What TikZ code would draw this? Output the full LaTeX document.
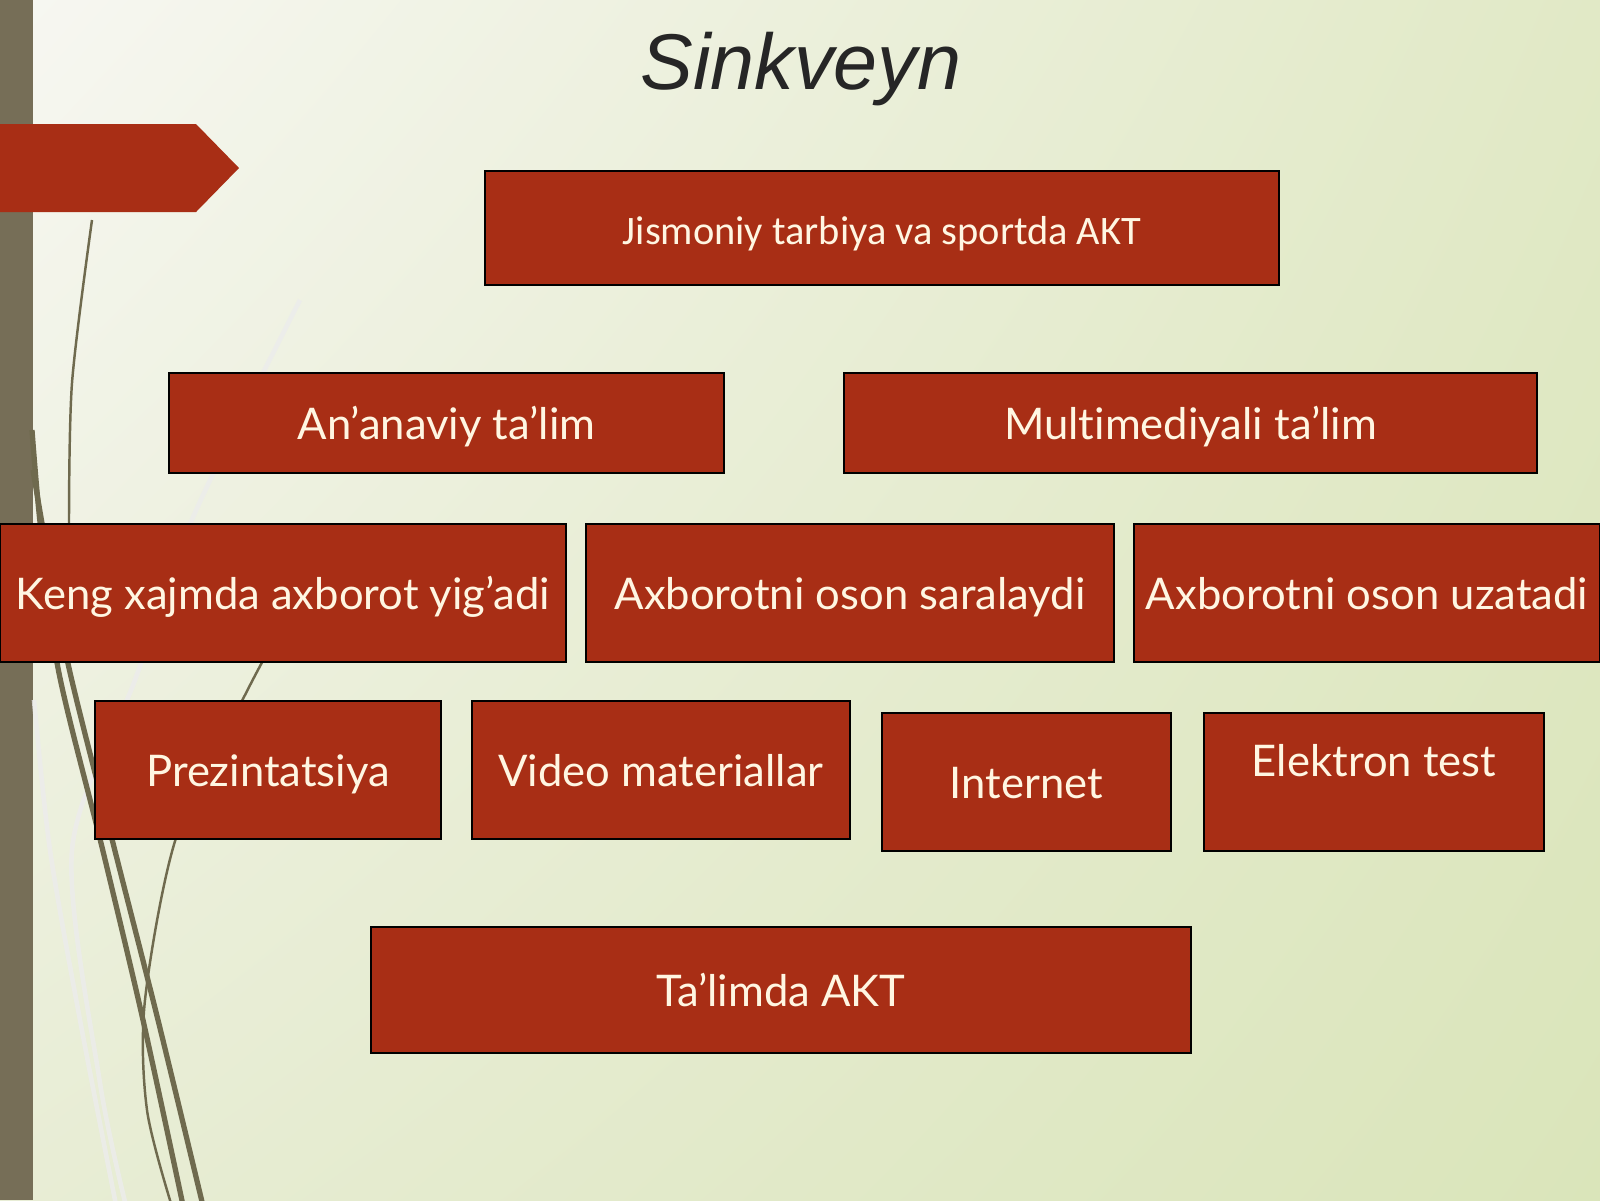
\documentclass[tikz,border=0pt]{standalone}
\usepackage{fontspec}
\usetikzlibrary{positioning,shadings}
\newfontfamily\latofont[Ligatures={NoCommon}]{Lato}
\newfontfamily\carlitofont{Carlito}
\newfontfamily\titlefont{Liberation Sans}
\definecolor{boxred}{HTML}{A82E15}
\definecolor{boxtext}{HTML}{FFF6E2}
\definecolor{barolive}{HTML}{766E57}
\definecolor{stemolive}{HTML}{6F6A4E}
\definecolor{bgA}{HTML}{F7F7F2}
\definecolor{bgB}{HTML}{E1E9C6}
\definecolor{bgC}{HTML}{E8EDD5}
\definecolor{bgD}{HTML}{DAE5BA}
\tikzset{
  cellbox/.style={draw=black, line width=0.5pt, fill=boxred, text=boxtext,
    inner sep=0pt, text height=0.32cm, text depth=0cm,
    font=\latofont\fontsize{12.4}{15}\selectfont},
  stem/.style={stemolive, line width=1.5pt},
  twig/.style={stemolive, line width=0.7pt},
  ghost/.style={white!85!gray, line width=1.3pt, opacity=0.8}
}
\begin{document}
\begin{tikzpicture}
  \useasboundingbox (0,0) rectangle (16,-12);
  % background
  \shade[upper left=bgA, upper right=bgB, lower left=bgC, lower right=bgD]
    (0,0) rectangle (16,-12);
  \fill[barolive] (0,0) rectangle (0.33,-12);

  % stems on the left
  \draw[ghost] plot[smooth] coordinates {(3.0,-3.0) (1.94,-5.15) (1.35,-6.8) (0.72,-8.5) (1.0,-10.83) (1.27,-12.1)};
  \draw[ghost] plot[smooth] coordinates {(0.34,-7.0) (0.5,-8.5) (0.8,-10.2) (1.17,-12.1)};
  \draw[twig] plot[smooth] coordinates {(0.92,-2.2) (0.72,-3.83) (0.69,-5.3)};
  \draw[stem] plot[smooth] coordinates {(0.32,-4.3) (0.40,-5.22) (0.58,-6.68) (1.02,-8.47) (1.43,-10.2) (1.84,-12.1)};
  \draw[stem] plot[smooth] coordinates {(0.33,-4.7) (0.45,-5.4) (0.69,-6.68) (1.14,-8.47) (1.58,-10.2) (2.04,-12.1)};
  \draw[twig] plot[smooth] coordinates {(2.66,-6.55) (2.40,-7.05) (1.76,-8.38) (1.45,-10.0) (1.47,-11.1) (1.73,-12.1)};

  % banner
  \fill[boxred] (0,-1.24) -- (1.96,-1.24) -- (2.39,-1.68) -- (1.96,-2.12) -- (0,-2.12) -- cycle;

  % title
  \node[font=\titlefont\itshape\fontsize{22.5}{26}\selectfont, text=black!85] (title) at (8.01,-0.69) {Sinkveyn};

  % rows of boxes
  \node[cellbox, minimum width=7.94cm, minimum height=1.14cm,
    font=\carlitofont\fontsize{11.5}{14}\selectfont, text height=0.32cm] (sport) at (8.82,-2.28) {Jismoniy tarbiya va sportda AKT};

  \node[cellbox, minimum width=5.55cm, minimum height=1.0cm] (ananaviy) at (4.465,-4.23) {An’anaviy ta’lim};
  \node[cellbox, minimum width=6.93cm, minimum height=1.0cm] (multi) at (11.905,-4.23) {Multimediyali ta’lim};

  \node[cellbox, minimum width=5.66cm, minimum height=1.38cm] (yigadi) at (2.83,-5.93) {Keng xajmda axborot yig’adi};
  \node[cellbox, minimum width=5.28cm, minimum height=1.38cm] (saralaydi) at (8.50,-5.93) {Axborotni oson saralaydi};
  \node[cellbox, minimum width=4.66cm, minimum height=1.38cm] (uzatadi) at (13.67,-5.93) {Axborotni oson uzatadi};

  \node[cellbox, minimum width=3.46cm, minimum height=1.38cm] (prez) at (2.68,-7.70) {Prezintatsiya};
  \node[cellbox, minimum width=3.78cm, minimum height=1.38cm] (video) at (6.61,-7.70) {Video materiallar};
  \node[cellbox, minimum width=2.89cm, minimum height=1.38cm] (internet) at (10.265,-7.82) {Internet};
  \node[cellbox, minimum width=3.40cm, minimum height=1.38cm, text depth=0.44cm] (etest) at (13.74,-7.82) {Elektron test};

  \node[cellbox, minimum width=8.20cm, minimum height=1.26cm] (talim) at (7.81,-9.90) {Ta’limda AKT};
\end{tikzpicture}
\end{document}
